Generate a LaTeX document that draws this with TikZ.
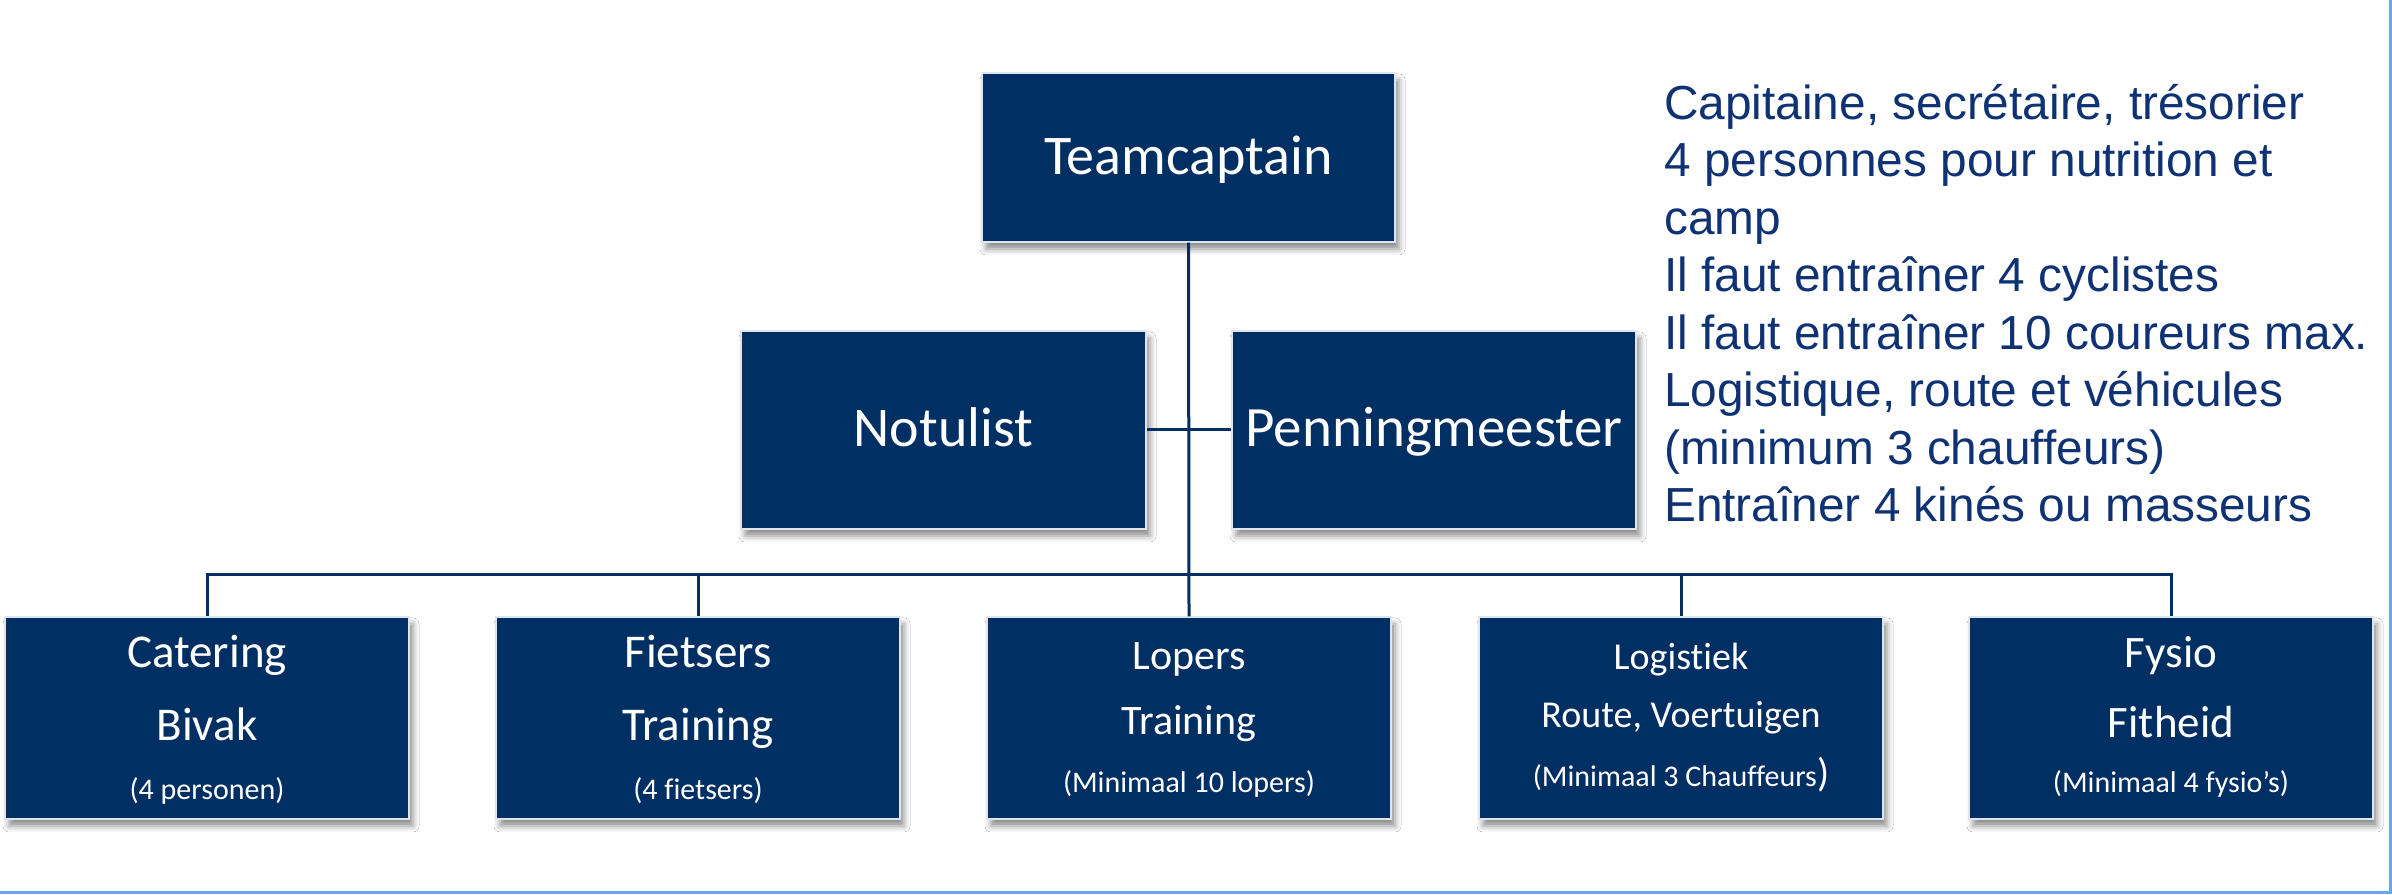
\documentclass[tikz,border=0pt]{standalone}
\usepackage{fontspec}
\setmainfont{Liberation Sans}[Ligatures=NoCommon]
\newfontfamily\calib{Carlito}[Ligatures=NoCommon]
\usetikzlibrary{shadows.blur}
\definecolor{navy}{RGB}{0,47,100}
\definecolor{txtblue}{RGB}{14,50,116}
\definecolor{edgeblue}{RGB}{105,165,240}
\definecolor{boxedge}{RGB}{225,228,235}
\begin{document}
\begin{tikzpicture}[x=1pt,y=1pt,
  orgbox/.style={draw=boxedge, line width=1.2pt, fill=navy, inner sep=0pt,
    blur shadow={shadow xshift=4pt, shadow yshift=-7pt, shadow blur radius=6pt, shadow opacity=45}},
  boxtxt/.style={text=white, inner sep=0pt, anchor=base, font=\calib\fontsize{#1}{#1}\selectfont},
  link/.style={draw=navy, line width=3pt}]
\useasboundingbox (0,0) rectangle (2392,894);
\fill[white] (0,0) rectangle (2392,894);

% top and middle boxes
\node[orgbox, minimum width=413pt, minimum height=169pt] (tc) at (1188.5,736.5) {};
\node[orgbox, minimum width=405pt, minimum height=198pt] (not) at (943.5,464) {};
\node[orgbox, minimum width=404pt, minimum height=198pt] (pen) at (1434,464) {};

% bottom boxes
\node[orgbox, minimum width=404pt, minimum height=202pt] (cat) at (207,176) {};
\node[orgbox, minimum width=404pt, minimum height=202pt] (fie) at (698,176) {};
\node[orgbox, minimum width=404pt, minimum height=202pt] (lop) at (1189,176) {};
\node[orgbox, minimum width=404pt, minimum height=202pt] (log) at (1681,176) {};
\node[orgbox, minimum width=404pt, minimum height=202pt] (fys) at (2171,176) {};

% texts
\node[boxtxt=56] (tct) at (1188.5,719) {Teamcaptain};
\node[boxtxt=56] (nott) at (943.5,447) {Notulist};
\node[boxtxt=57] (pent) at (1434,447) {Penningmeester};

\node[boxtxt=47] (cat1) at (207,226) {Catering};
\node[boxtxt=47] (cat2) at (207,153) {Bivak};
\node[boxtxt=30] (cat3) at (207,94) {(4 personen)};

\node[boxtxt=47] (fie1) at (698,226) {Fietsers};
\node[boxtxt=47] (fie2) at (698,153) {Training};
\node[boxtxt=30] (fie3) at (698,94) {(4 fietsers)};

\node[boxtxt=42] (lop1) at (1189,224) {Lopers};
\node[boxtxt=42] (lop2) at (1189,159) {Training};
\node[boxtxt=30] (lop3) at (1189,102) {(Minimaal 10 lopers)};

\node[boxtxt=38] (log1) at (1681,224) {Logistiek};
\node[boxtxt=38] (log2) at (1681,166) {Route, Voertuigen};
\node[boxtxt=30] (log3) at (1681,107) {(Minimaal 3 Chauffeurs{\fontsize{40}{40}\selectfont)}};

\node[boxtxt=45] (fys1) at (2171,226) {Fysio};
\node[boxtxt=45] (fys2) at (2171,156) {Fitheid};
\node[boxtxt=30] (fys3) at (2171,101) {(Minimaal 4 fysio’s)};

% connectors
\coordinate (bus) at (1189,319);
\draw[link] (tc.south) -- (lop.north);
\draw[link] (not.east) -- (pen.west);
\draw[link] (cat.north) -- (cat.north |- bus) -- (fys.north |- bus) -- (fys.north);
\draw[link] (fie.north) -- (fie.north |- bus);
\draw[link] (log.north) -- (log.north |- bus);

% notes
\node[anchor=north west, inner sep=0pt, align=left, text=txtblue,
  font=\fontsize{47.8}{57.5}\selectfont] (notes) at (1664,810)
  {Capitaine, secrétaire, trésorier\\
   4 personnes pour nutrition et\\
   camp\\
   Il faut entraîner 4 cyclistes\\
   Il faut entraîner 10 coureurs max.\\
   Logistique, route et véhicules\\
   (minimum 3 chauffeurs)\\
   Entraîner 4 kinés ou masseurs};

% frame edges
\draw[edgeblue, line width=3pt] (0,1.5) -- (2390.5,1.5) -- (2390.5,894);
\end{tikzpicture}
\end{document}
